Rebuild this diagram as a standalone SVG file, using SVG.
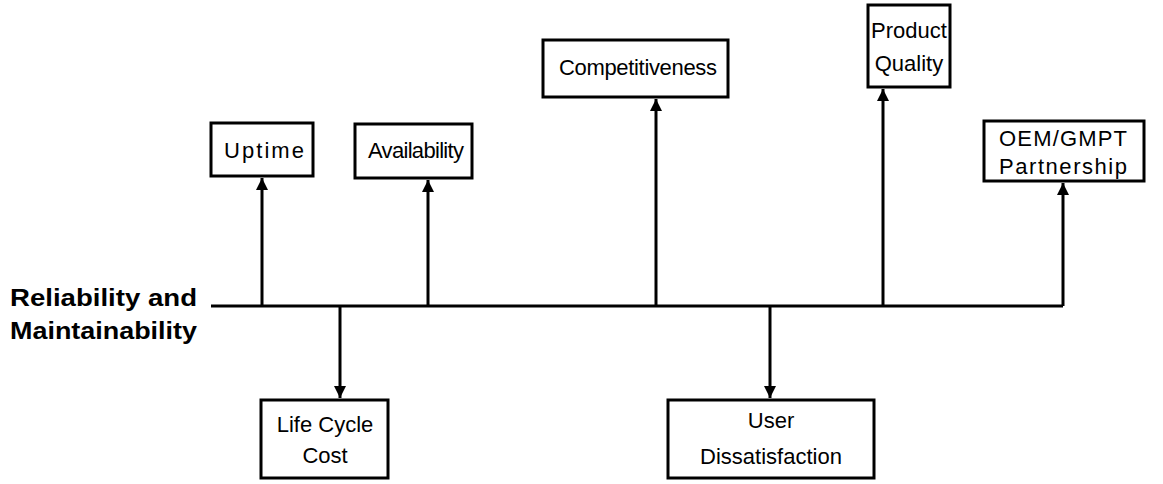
<svg xmlns="http://www.w3.org/2000/svg" width="1163" height="484" viewBox="0 0 1163 484">
<style>
.box{fill:#fff;stroke:#000;stroke-width:3}
.t{font-family:"Liberation Sans",Arial,sans-serif;font-size:22px;fill:#000;text-anchor:middle}
.b{font-family:"Liberation Sans",Arial,sans-serif;font-size:24px;font-weight:bold;fill:#000}
.c{stroke:#000;stroke-width:3;fill:none}
</style>
<defs>
<marker id="ah" markerWidth="12" markerHeight="12" refX="12" refY="6" orient="auto" markerUnits="userSpaceOnUse" viewBox="0 0 12 12">
<path d="M0,0 L12,6 L0,12 Z" fill="#000"/>
</marker>
</defs>
<rect width="1163" height="484" fill="#fff"/>
<g id="connectors">
<path class="c" d="M211,306 H1063"/>
<path class="c" d="M262,306 V178" marker-end="url(#ah)"/>
<path class="c" d="M428,306 V180" marker-end="url(#ah)"/>
<path class="c" d="M656,306 V99" marker-end="url(#ah)"/>
<path class="c" d="M883,306 V89" marker-end="url(#ah)"/>
<path class="c" d="M1063,306 V183" marker-end="url(#ah)"/>
<path class="c" d="M340,306 V398" marker-end="url(#ah)"/>
<path class="c" d="M770,306 V398" marker-end="url(#ah)"/>
</g>
<g id="title">
<text class="b" x="10" y="306" textLength="187" lengthAdjust="spacingAndGlyphs">Reliability and</text>
<text class="b" x="10" y="339" textLength="187" lengthAdjust="spacingAndGlyphs">Maintainability</text>
</g>
<g id="uptime">
<rect class="box" x="211" y="123" width="102" height="53"/>
<text class="t" x="264" y="158" textLength="80" lengthAdjust="spacing">Uptime</text>
</g>
<g id="availability">
<rect class="box" x="355" y="124" width="117" height="54"/>
<text class="t" x="416" y="158" textLength="96" lengthAdjust="spacing">Availability</text>
</g>
<g id="competitiveness">
<rect class="box" x="543" y="40" width="185" height="57"/>
<text class="t" x="638" y="75" textLength="158" lengthAdjust="spacing">Competitiveness</text>
</g>
<g id="quality">
<rect class="box" x="868" y="5" width="82" height="82"/>
<text class="t" x="909" y="38">Product</text>
<text class="t" x="909" y="71">Quality</text>
</g>
<g id="oem">
<rect class="box" x="984" y="121" width="160" height="60"/>
<text class="t" x="1063" y="146" textLength="128" lengthAdjust="spacing">OEM/GMPT</text>
<text class="t" x="1063" y="174" textLength="128" lengthAdjust="spacing">Partnership</text>
</g>
<g id="lcc">
<rect class="box" x="261" y="400" width="127" height="78"/>
<text class="t" x="325" y="432">Life Cycle</text>
<text class="t" x="325" y="463">Cost</text>
</g>
<g id="user">
<rect class="box" x="668" y="400" width="206" height="78"/>
<text class="t" x="771" y="428">User</text>
<text class="t" x="771" y="464">Dissatisfaction</text>
</g>
</svg>
